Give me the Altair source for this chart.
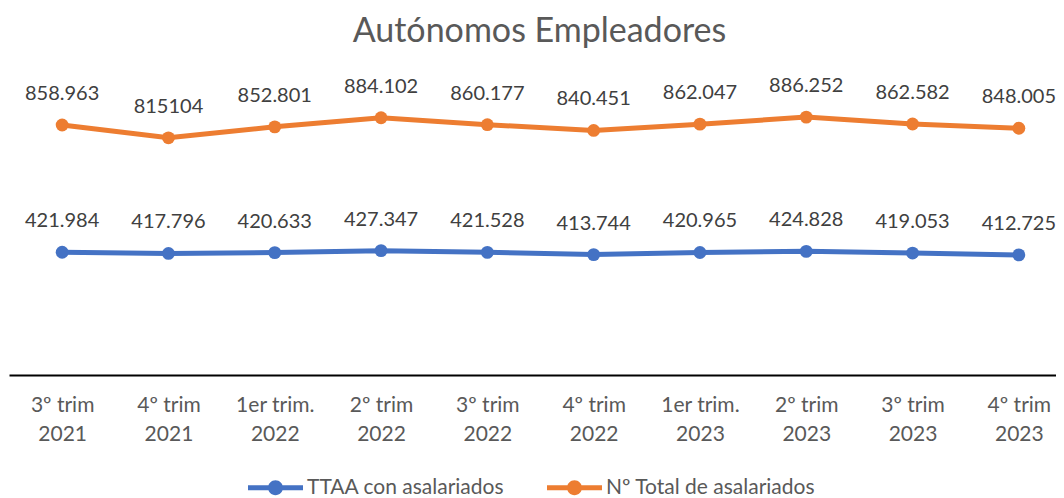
import altair as alt
import pandas as pd

categories = ["3º trim|2021", "4º trim|2021", "1er trim.|2022", "2º trim|2022", "3º trim|2022",
              "4º trim|2022", "1er trim.|2023", "2º trim|2023", "3º trim|2023", "4º trim|2023"]
series_names = ["TTAA con asalariados", "Nº Total de asalariados"]
ttaa_values = [421984, 417796, 420633, 427347, 421528, 413744, 420965, 424828, 419053, 412725]
ttaa_labels = ["421.984", "417.796", "420.633", "427.347", "421.528", "413.744", "420.965", "424.828", "419.053", "412.725"]
total_values = [858963, 815104, 852801, 884102, 860177, 840451, 862047, 886252, 862582, 848005]
total_labels = ["858.963", "815104", "852.801", "884.102", "860.177", "840.451", "862.047", "886.252", "862.582", "848.005"]
colors = ["#4472C4", "#ED7D31"]

rows = []
for c, v, l in zip(categories, ttaa_values, ttaa_labels):
    rows.append({"cat": c, "value": v, "label": l, "serie": series_names[0]})
for c, v, l in zip(categories, total_values, total_labels):
    rows.append({"cat": c, "value": v, "label": l, "serie": series_names[1]})
df = pd.DataFrame(rows)

FONT = "Lato"
W, H = 1047, 291

sym_path = ("M-1,-0.09L1,-0.09L1,0.09L-1,0.09Z "
            "M0.27,0A0.27,0.27,0,1,1,-0.27,0A0.27,0.27,0,1,1,0.27,0Z")

legend = alt.Legend(
    title=None, orient="none", legendX=239, legendY=376, direction="horizontal",
    symbolType=sym_path, symbolSize=3025, symbolStrokeWidth=0,
    labelFont=FONT, labelFontSize=21, labelColor="#595959", labelLimit=400,
    labelOffset=4, columnPadding=42,
)

x = alt.X("cat:N", sort=categories, title=None,
          scale=alt.Scale(type="point", padding=0.5, range=[0, 1063]),
          axis=alt.Axis(labelExpr="split(datum.label, '|')", labelAngle=0,
                        labelFont=FONT, labelFontSize=21, labelColor="#595959",
                        labelLineHeight=29, labelPadding=19, ticks=False, grid=False,
                        domainColor="#000000", domainWidth=2))
y = alt.Y("value:Q", scale=alt.Scale(domain=[0, 1000000], nice=False), axis=None)
color_scale = alt.Scale(domain=series_names, range=colors)

base = alt.Chart(df)
lines = base.mark_line(strokeWidth=5).encode(
    x=x, y=y, color=alt.Color("serie:N", scale=color_scale, legend=legend))
points = base.mark_point(filled=True, size=165, opacity=1).encode(
    x=x, y=y, color=alt.Color("serie:N", scale=color_scale, legend=legend))
texts = base.mark_text(dy=-31, font=FONT, fontSize=20, color="#404040", baseline="middle").encode(
    x=x, y=y, text="label:N")

chart = alt.layer(lines, points, texts).properties(
    width=W, height=H,
    title=alt.TitleParams("Autónomos Empleadores", font=FONT, fontSize=34, fontWeight="normal",
                          color="#595959", anchor="middle", dx=7, offset=0, baseline="alphabetic"),
    autosize=alt.AutoSizeParams(type="none"),
    padding={"left": 1, "top": 76, "right": 0, "bottom": 123},
).configure_view(stroke=None)

chart.save("out.html", embed_options={"renderer": "svg", "actions": False})
